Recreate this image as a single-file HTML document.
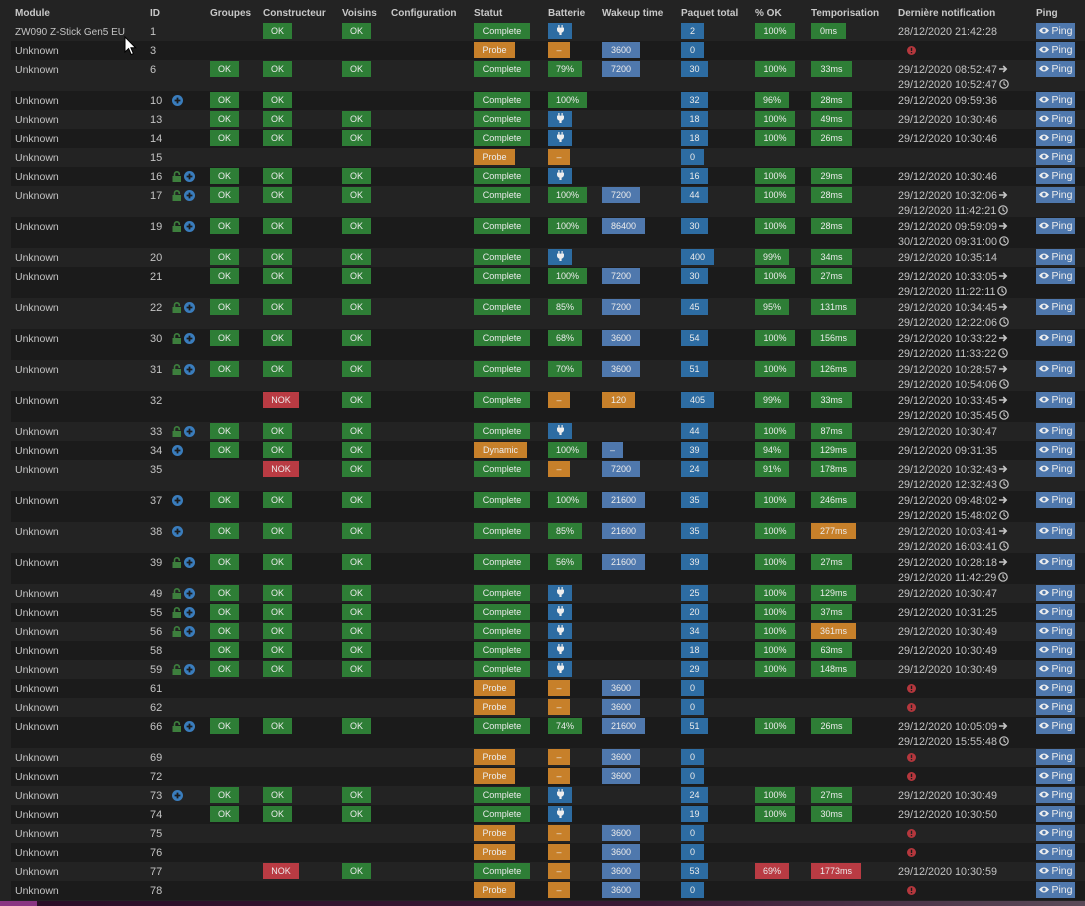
<!DOCTYPE html>
<html><head><meta charset="utf-8"><style>
*{box-sizing:border-box}
body{margin:0;width:1085px;height:906px;background:#232323;font-family:"Liberation Sans",sans-serif;overflow:hidden;position:relative}
.h{position:relative;height:22px}
.h span{position:absolute;top:5px;line-height:18px;font-size:10px;font-weight:bold;color:#c8c8c8;white-space:nowrap}
.r{position:relative;height:19px}
.d{height:31px}
.k::before{content:"";position:absolute;left:11px;right:0;top:0;bottom:0;background:#1b1b1b}
.t{position:absolute;top:1px;line-height:19px;font-size:11px;color:#c4c4c4;white-space:nowrap}
.b{position:absolute;top:1px;height:16px;line-height:16px;font-size:9px;font-weight:normal;text-align:center;color:#ececec;white-space:nowrap}
.n2{top:3px;line-height:14.5px}
.m{left:15px;font-size:10.5px}.id{left:150px}
.ic{position:absolute;top:4px;left:172px;line-height:0}
.g{left:210px;width:29px}.c{left:263px}.v{left:342px;width:29px}.s{left:474px}.ba{left:548px}.w{left:602px}.p{left:681px}.o{left:755px}.tp{left:811px}
.n{left:898px;font-size:10.8px}
.pg{left:1036px;width:39px;font-size:10.5px;background:#4f78ad}
.er{position:absolute;left:907px;top:5px;line-height:0}
.G{background:#2e7e36}.O{background:#c7802a}.B{background:#2d6ca2}.L{background:#4f78ad}.R{background:#b93b43}
.w21{width:21px}.w22{width:22px}.w23{width:23px}.w24{width:24px}.w27{width:27px}.w29{width:29px}.w33{width:33px}.w34{width:34px}.w35{width:35px}.w36{width:36px}.w38{width:38px}.w39{width:39px}.w40{width:40px}.w41{width:41px}.w43{width:43px}.w45{width:45px}.w50{width:50px}.w53{width:53px}.w56{width:56px}
svg{display:inline-block}
.bar{position:absolute;left:0;top:901px;width:1085px;height:5px;background:linear-gradient(to right,#8a3582 0,#8a3582 37px,#2b0e27 37px,#3a1a35 60%,#5b4a58 100%)}
.cur{position:absolute;left:124px;top:36px}
</style></head><body>
<div class="h"><span style="left:15px">Module</span><span style="left:150px">ID</span><span style="left:210px">Groupes</span><span style="left:263px">Constructeur</span><span style="left:342px">Voisins</span><span style="left:391px">Configuration</span><span style="left:474px">Statut</span><span style="left:548px">Batterie</span><span style="left:602px">Wakeup time</span><span style="left:681px">Paquet total</span><span style="left:755px">% OK</span><span style="left:811px">Temporisation</span><span style="left:898px">Dernière notification</span><span style="left:1036px">Ping</span></div>

<!-- 1 -->
<div class="r"><span class="t m" style="font-size:10px">ZW090 Z-Stick Gen5 EU</span><span class="t id">1</span><b class="b G c w29">OK</b><b class="b G v">OK</b><b class="b G s w56">Complete</b><b class="b B ba w24"><svg width="7" height="10" viewBox="0 0 7 10" style="vertical-align:-1px"><path d="M1.3 0h1.2v2.6H1.3zM4.5 0h1.2v2.6H4.5zM0 2.6h7v2.2c0 1.5-1 2.6-2.4 2.9V10H2.4V7.7C1 7.4 0 6.3 0 4.8z" fill="#eee"/></svg></b><b class="b B p w23">2</b><b class="b G o w40">100%</b><b class="b G tp w35">0ms</b><span class="t n">28/12/2020 21:42:28</span><b class="b pg"><svg width="10" height="7" viewBox="0 0 10 7"><path d="M0 3.5Q5-2.6 10 3.5Q5 9.6 0 3.5z" fill="#eee"/><circle cx="5" cy="3.5" r="1.7" fill="#4f78ad"/></svg> Ping</b></div>
<!-- 3 -->
<div class="r k"><span class="t m">Unknown</span><span class="t id">3</span><b class="b O s w41">Probe</b><b class="b O ba w22">–</b><b class="b L w w38">3600</b><b class="b B p w23">0</b><span class="er"><svg width="9" height="9"><circle cx="4.5" cy="4.5" r="4.5" fill="#b5373d"/><path d="M4.5 1.8v3.2M4.5 6v1.3" stroke="#1b1b1b" stroke-width="1.4"/></svg></span><b class="b pg"><svg width="10" height="7" viewBox="0 0 10 7"><path d="M0 3.5Q5-2.6 10 3.5Q5 9.6 0 3.5z" fill="#eee"/><circle cx="5" cy="3.5" r="1.7" fill="#4f78ad"/></svg> Ping</b></div>
<!-- 6 -->
<div class="r d"><span class="t m">Unknown</span><span class="t id">6</span><b class="b G g">OK</b><b class="b G c w29">OK</b><b class="b G v">OK</b><b class="b G s w56">Complete</b><b class="b G ba w34">79%</b><b class="b L w w38">7200</b><b class="b B p w27">30</b><b class="b G o w40">100%</b><b class="b G tp w41">33ms</b><span class="t n n2">29/12/2020 08:52:47<svg width="9" height="8" viewBox="0 0 9 8" style="margin-left:2px"><path d="M0 4h7.2M4.2 1l3 3-3 3" stroke="#c4c4c4" stroke-width="1.6" fill="none"/></svg><br>29/12/2020 10:52:47<svg width="10" height="10" viewBox="0 0 10 10" style="margin-left:2px;vertical-align:-1px"><circle cx="5" cy="5" r="4.2" stroke="#c4c4c4" stroke-width="1.2" fill="none"/><path d="M5 2.4V5.2l1.8 1.2" stroke="#c4c4c4" stroke-width="1.1" fill="none"/></svg></span><b class="b pg"><svg width="10" height="7" viewBox="0 0 10 7"><path d="M0 3.5Q5-2.6 10 3.5Q5 9.6 0 3.5z" fill="#eee"/><circle cx="5" cy="3.5" r="1.7" fill="#4f78ad"/></svg> Ping</b></div>
<!-- 10 -->
<div class="r k"><span class="t m">Unknown</span><span class="t id">10</span><span class="ic"><svg width="11" height="11"><circle cx="5.5" cy="5.5" r="5.5" fill="#3a7dbd"/><path d="M5.5 2.6v5.8M2.6 5.5h5.8" stroke="#1b1b1b" stroke-width="1.8"/></svg></span><b class="b G g">OK</b><b class="b G c w29">OK</b><b class="b G s w56">Complete</b><b class="b G ba w39">100%</b><b class="b B p w27">32</b><b class="b G o w34">96%</b><b class="b G tp w41">28ms</b><span class="t n">29/12/2020 09:59:36</span><b class="b pg"><svg width="10" height="7" viewBox="0 0 10 7"><path d="M0 3.5Q5-2.6 10 3.5Q5 9.6 0 3.5z" fill="#eee"/><circle cx="5" cy="3.5" r="1.7" fill="#4f78ad"/></svg> Ping</b></div>
<!-- 13 -->
<div class="r"><span class="t m">Unknown</span><span class="t id">13</span><b class="b G g">OK</b><b class="b G c w29">OK</b><b class="b G v">OK</b><b class="b G s w56">Complete</b><b class="b B ba w24"><svg width="7" height="10" viewBox="0 0 7 10" style="vertical-align:-1px"><path d="M1.3 0h1.2v2.6H1.3zM4.5 0h1.2v2.6H4.5zM0 2.6h7v2.2c0 1.5-1 2.6-2.4 2.9V10H2.4V7.7C1 7.4 0 6.3 0 4.8z" fill="#eee"/></svg></b><b class="b B p w27">18</b><b class="b G o w40">100%</b><b class="b G tp w41">49ms</b><span class="t n">29/12/2020 10:30:46</span><b class="b pg"><svg width="10" height="7" viewBox="0 0 10 7"><path d="M0 3.5Q5-2.6 10 3.5Q5 9.6 0 3.5z" fill="#eee"/><circle cx="5" cy="3.5" r="1.7" fill="#4f78ad"/></svg> Ping</b></div>
<!-- 14 -->
<div class="r k"><span class="t m">Unknown</span><span class="t id">14</span><b class="b G g">OK</b><b class="b G c w29">OK</b><b class="b G v">OK</b><b class="b G s w56">Complete</b><b class="b B ba w24"><svg width="7" height="10" viewBox="0 0 7 10" style="vertical-align:-1px"><path d="M1.3 0h1.2v2.6H1.3zM4.5 0h1.2v2.6H4.5zM0 2.6h7v2.2c0 1.5-1 2.6-2.4 2.9V10H2.4V7.7C1 7.4 0 6.3 0 4.8z" fill="#eee"/></svg></b><b class="b B p w27">18</b><b class="b G o w40">100%</b><b class="b G tp w41">26ms</b><span class="t n">29/12/2020 10:30:46</span><b class="b pg"><svg width="10" height="7" viewBox="0 0 10 7"><path d="M0 3.5Q5-2.6 10 3.5Q5 9.6 0 3.5z" fill="#eee"/><circle cx="5" cy="3.5" r="1.7" fill="#4f78ad"/></svg> Ping</b></div>
<!-- 15 -->
<div class="r"><span class="t m">Unknown</span><span class="t id">15</span><b class="b O s w41">Probe</b><b class="b O ba w22">–</b><b class="b B p w23">0</b><b class="b pg"><svg width="10" height="7" viewBox="0 0 10 7"><path d="M0 3.5Q5-2.6 10 3.5Q5 9.6 0 3.5z" fill="#eee"/><circle cx="5" cy="3.5" r="1.7" fill="#4f78ad"/></svg> Ping</b></div>
<!-- 16 -->
<div class="r k"><span class="t m">Unknown</span><span class="t id">16</span><span class="ic"><svg width="23" height="11" viewBox="0 0 23 11"><rect x="0.5" y="5" width="8.5" height="6" fill="#3d7f3d"/><path d="M2.5 5.5V3.2a2.4 2.4 0 0 1 4.8 0v0.8" stroke="#3d7f3d" stroke-width="1.6" fill="none"/><circle cx="17.5" cy="5.5" r="5.5" fill="#3a7dbd"/><path d="M17.5 2.6v5.8M14.6 5.5h5.8" stroke="#1b1b1b" stroke-width="1.8"/></svg></span><b class="b G g">OK</b><b class="b G c w29">OK</b><b class="b G v">OK</b><b class="b G s w56">Complete</b><b class="b B ba w24"><svg width="7" height="10" viewBox="0 0 7 10" style="vertical-align:-1px"><path d="M1.3 0h1.2v2.6H1.3zM4.5 0h1.2v2.6H4.5zM0 2.6h7v2.2c0 1.5-1 2.6-2.4 2.9V10H2.4V7.7C1 7.4 0 6.3 0 4.8z" fill="#eee"/></svg></b><b class="b B p w27">16</b><b class="b G o w40">100%</b><b class="b G tp w41">29ms</b><span class="t n">29/12/2020 10:30:46</span><b class="b pg"><svg width="10" height="7" viewBox="0 0 10 7"><path d="M0 3.5Q5-2.6 10 3.5Q5 9.6 0 3.5z" fill="#eee"/><circle cx="5" cy="3.5" r="1.7" fill="#4f78ad"/></svg> Ping</b></div>
<!-- 17 -->
<div class="r d"><span class="t m">Unknown</span><span class="t id">17</span><span class="ic"><svg width="23" height="11" viewBox="0 0 23 11"><rect x="0.5" y="5" width="8.5" height="6" fill="#3d7f3d"/><path d="M2.5 5.5V3.2a2.4 2.4 0 0 1 4.8 0v0.8" stroke="#3d7f3d" stroke-width="1.6" fill="none"/><circle cx="17.5" cy="5.5" r="5.5" fill="#3a7dbd"/><path d="M17.5 2.6v5.8M14.6 5.5h5.8" stroke="#1b1b1b" stroke-width="1.8"/></svg></span><b class="b G g">OK</b><b class="b G c w29">OK</b><b class="b G v">OK</b><b class="b G s w56">Complete</b><b class="b G ba w39">100%</b><b class="b L w w38">7200</b><b class="b B p w27">44</b><b class="b G o w40">100%</b><b class="b G tp w41">28ms</b><span class="t n n2">29/12/2020 10:32:06<svg width="9" height="8" viewBox="0 0 9 8" style="margin-left:2px"><path d="M0 4h7.2M4.2 1l3 3-3 3" stroke="#c4c4c4" stroke-width="1.6" fill="none"/></svg><br>29/12/2020 11:42:21<svg width="10" height="10" viewBox="0 0 10 10" style="margin-left:2px;vertical-align:-1px"><circle cx="5" cy="5" r="4.2" stroke="#c4c4c4" stroke-width="1.2" fill="none"/><path d="M5 2.4V5.2l1.8 1.2" stroke="#c4c4c4" stroke-width="1.1" fill="none"/></svg></span><b class="b pg"><svg width="10" height="7" viewBox="0 0 10 7"><path d="M0 3.5Q5-2.6 10 3.5Q5 9.6 0 3.5z" fill="#eee"/><circle cx="5" cy="3.5" r="1.7" fill="#4f78ad"/></svg> Ping</b></div>
<!-- 19 -->
<div class="r d k"><span class="t m">Unknown</span><span class="t id">19</span><span class="ic"><svg width="23" height="11" viewBox="0 0 23 11"><rect x="0.5" y="5" width="8.5" height="6" fill="#3d7f3d"/><path d="M2.5 5.5V3.2a2.4 2.4 0 0 1 4.8 0v0.8" stroke="#3d7f3d" stroke-width="1.6" fill="none"/><circle cx="17.5" cy="5.5" r="5.5" fill="#3a7dbd"/><path d="M17.5 2.6v5.8M14.6 5.5h5.8" stroke="#1b1b1b" stroke-width="1.8"/></svg></span><b class="b G g">OK</b><b class="b G c w29">OK</b><b class="b G v">OK</b><b class="b G s w56">Complete</b><b class="b G ba w39">100%</b><b class="b L w w43">86400</b><b class="b B p w27">30</b><b class="b G o w40">100%</b><b class="b G tp w41">28ms</b><span class="t n n2">29/12/2020 09:59:09<svg width="9" height="8" viewBox="0 0 9 8" style="margin-left:2px"><path d="M0 4h7.2M4.2 1l3 3-3 3" stroke="#c4c4c4" stroke-width="1.6" fill="none"/></svg><br>30/12/2020 09:31:00<svg width="10" height="10" viewBox="0 0 10 10" style="margin-left:2px;vertical-align:-1px"><circle cx="5" cy="5" r="4.2" stroke="#c4c4c4" stroke-width="1.2" fill="none"/><path d="M5 2.4V5.2l1.8 1.2" stroke="#c4c4c4" stroke-width="1.1" fill="none"/></svg></span><b class="b pg"><svg width="10" height="7" viewBox="0 0 10 7"><path d="M0 3.5Q5-2.6 10 3.5Q5 9.6 0 3.5z" fill="#eee"/><circle cx="5" cy="3.5" r="1.7" fill="#4f78ad"/></svg> Ping</b></div>
<!-- 20 -->
<div class="r"><span class="t m">Unknown</span><span class="t id">20</span><b class="b G g">OK</b><b class="b G c w29">OK</b><b class="b G v">OK</b><b class="b G s w56">Complete</b><b class="b B ba w24"><svg width="7" height="10" viewBox="0 0 7 10" style="vertical-align:-1px"><path d="M1.3 0h1.2v2.6H1.3zM4.5 0h1.2v2.6H4.5zM0 2.6h7v2.2c0 1.5-1 2.6-2.4 2.9V10H2.4V7.7C1 7.4 0 6.3 0 4.8z" fill="#eee"/></svg></b><b class="b B p w33">400</b><b class="b G o w34">99%</b><b class="b G tp w41">34ms</b><span class="t n">29/12/2020 10:35:14</span><b class="b pg"><svg width="10" height="7" viewBox="0 0 10 7"><path d="M0 3.5Q5-2.6 10 3.5Q5 9.6 0 3.5z" fill="#eee"/><circle cx="5" cy="3.5" r="1.7" fill="#4f78ad"/></svg> Ping</b></div>
<!-- 21 -->
<div class="r d k"><span class="t m">Unknown</span><span class="t id">21</span><b class="b G g">OK</b><b class="b G c w29">OK</b><b class="b G v">OK</b><b class="b G s w56">Complete</b><b class="b G ba w39">100%</b><b class="b L w w38">7200</b><b class="b B p w27">30</b><b class="b G o w40">100%</b><b class="b G tp w41">27ms</b><span class="t n n2">29/12/2020 10:33:05<svg width="9" height="8" viewBox="0 0 9 8" style="margin-left:2px"><path d="M0 4h7.2M4.2 1l3 3-3 3" stroke="#c4c4c4" stroke-width="1.6" fill="none"/></svg><br>29/12/2020 11:22:11<svg width="10" height="10" viewBox="0 0 10 10" style="margin-left:2px;vertical-align:-1px"><circle cx="5" cy="5" r="4.2" stroke="#c4c4c4" stroke-width="1.2" fill="none"/><path d="M5 2.4V5.2l1.8 1.2" stroke="#c4c4c4" stroke-width="1.1" fill="none"/></svg></span><b class="b pg"><svg width="10" height="7" viewBox="0 0 10 7"><path d="M0 3.5Q5-2.6 10 3.5Q5 9.6 0 3.5z" fill="#eee"/><circle cx="5" cy="3.5" r="1.7" fill="#4f78ad"/></svg> Ping</b></div>
<!-- 22 -->
<div class="r d"><span class="t m">Unknown</span><span class="t id">22</span><span class="ic"><svg width="23" height="11" viewBox="0 0 23 11"><rect x="0.5" y="5" width="8.5" height="6" fill="#3d7f3d"/><path d="M2.5 5.5V3.2a2.4 2.4 0 0 1 4.8 0v0.8" stroke="#3d7f3d" stroke-width="1.6" fill="none"/><circle cx="17.5" cy="5.5" r="5.5" fill="#3a7dbd"/><path d="M17.5 2.6v5.8M14.6 5.5h5.8" stroke="#1b1b1b" stroke-width="1.8"/></svg></span><b class="b G g">OK</b><b class="b G c w29">OK</b><b class="b G v">OK</b><b class="b G s w56">Complete</b><b class="b G ba w34">85%</b><b class="b L w w38">7200</b><b class="b B p w27">45</b><b class="b G o w34">95%</b><b class="b G tp w45">131ms</b><span class="t n n2">29/12/2020 10:34:45<svg width="9" height="8" viewBox="0 0 9 8" style="margin-left:2px"><path d="M0 4h7.2M4.2 1l3 3-3 3" stroke="#c4c4c4" stroke-width="1.6" fill="none"/></svg><br>29/12/2020 12:22:06<svg width="10" height="10" viewBox="0 0 10 10" style="margin-left:2px;vertical-align:-1px"><circle cx="5" cy="5" r="4.2" stroke="#c4c4c4" stroke-width="1.2" fill="none"/><path d="M5 2.4V5.2l1.8 1.2" stroke="#c4c4c4" stroke-width="1.1" fill="none"/></svg></span><b class="b pg"><svg width="10" height="7" viewBox="0 0 10 7"><path d="M0 3.5Q5-2.6 10 3.5Q5 9.6 0 3.5z" fill="#eee"/><circle cx="5" cy="3.5" r="1.7" fill="#4f78ad"/></svg> Ping</b></div>
<!-- 30 -->
<div class="r d k"><span class="t m">Unknown</span><span class="t id">30</span><span class="ic"><svg width="23" height="11" viewBox="0 0 23 11"><rect x="0.5" y="5" width="8.5" height="6" fill="#3d7f3d"/><path d="M2.5 5.5V3.2a2.4 2.4 0 0 1 4.8 0v0.8" stroke="#3d7f3d" stroke-width="1.6" fill="none"/><circle cx="17.5" cy="5.5" r="5.5" fill="#3a7dbd"/><path d="M17.5 2.6v5.8M14.6 5.5h5.8" stroke="#1b1b1b" stroke-width="1.8"/></svg></span><b class="b G g">OK</b><b class="b G c w29">OK</b><b class="b G v">OK</b><b class="b G s w56">Complete</b><b class="b G ba w34">68%</b><b class="b L w w38">3600</b><b class="b B p w27">54</b><b class="b G o w40">100%</b><b class="b G tp w45">156ms</b><span class="t n n2">29/12/2020 10:33:22<svg width="9" height="8" viewBox="0 0 9 8" style="margin-left:2px"><path d="M0 4h7.2M4.2 1l3 3-3 3" stroke="#c4c4c4" stroke-width="1.6" fill="none"/></svg><br>29/12/2020 11:33:22<svg width="10" height="10" viewBox="0 0 10 10" style="margin-left:2px;vertical-align:-1px"><circle cx="5" cy="5" r="4.2" stroke="#c4c4c4" stroke-width="1.2" fill="none"/><path d="M5 2.4V5.2l1.8 1.2" stroke="#c4c4c4" stroke-width="1.1" fill="none"/></svg></span><b class="b pg"><svg width="10" height="7" viewBox="0 0 10 7"><path d="M0 3.5Q5-2.6 10 3.5Q5 9.6 0 3.5z" fill="#eee"/><circle cx="5" cy="3.5" r="1.7" fill="#4f78ad"/></svg> Ping</b></div>
<!-- 31 -->
<div class="r d"><span class="t m">Unknown</span><span class="t id">31</span><span class="ic"><svg width="23" height="11" viewBox="0 0 23 11"><rect x="0.5" y="5" width="8.5" height="6" fill="#3d7f3d"/><path d="M2.5 5.5V3.2a2.4 2.4 0 0 1 4.8 0v0.8" stroke="#3d7f3d" stroke-width="1.6" fill="none"/><circle cx="17.5" cy="5.5" r="5.5" fill="#3a7dbd"/><path d="M17.5 2.6v5.8M14.6 5.5h5.8" stroke="#1b1b1b" stroke-width="1.8"/></svg></span><b class="b G g">OK</b><b class="b G c w29">OK</b><b class="b G v">OK</b><b class="b G s w56">Complete</b><b class="b G ba w34">70%</b><b class="b L w w38">3600</b><b class="b B p w27">51</b><b class="b G o w40">100%</b><b class="b G tp w45">126ms</b><span class="t n n2">29/12/2020 10:28:57<svg width="9" height="8" viewBox="0 0 9 8" style="margin-left:2px"><path d="M0 4h7.2M4.2 1l3 3-3 3" stroke="#c4c4c4" stroke-width="1.6" fill="none"/></svg><br>29/12/2020 10:54:06<svg width="10" height="10" viewBox="0 0 10 10" style="margin-left:2px;vertical-align:-1px"><circle cx="5" cy="5" r="4.2" stroke="#c4c4c4" stroke-width="1.2" fill="none"/><path d="M5 2.4V5.2l1.8 1.2" stroke="#c4c4c4" stroke-width="1.1" fill="none"/></svg></span><b class="b pg"><svg width="10" height="7" viewBox="0 0 10 7"><path d="M0 3.5Q5-2.6 10 3.5Q5 9.6 0 3.5z" fill="#eee"/><circle cx="5" cy="3.5" r="1.7" fill="#4f78ad"/></svg> Ping</b></div>
<!-- 32 -->
<div class="r d k"><span class="t m">Unknown</span><span class="t id">32</span><b class="b R c w36">NOK</b><b class="b G v">OK</b><b class="b G s w56">Complete</b><b class="b O ba w22">–</b><b class="b O w w33">120</b><b class="b B p w33">405</b><b class="b G o w34">99%</b><b class="b G tp w41">33ms</b><span class="t n n2">29/12/2020 10:33:45<svg width="9" height="8" viewBox="0 0 9 8" style="margin-left:2px"><path d="M0 4h7.2M4.2 1l3 3-3 3" stroke="#c4c4c4" stroke-width="1.6" fill="none"/></svg><br>29/12/2020 10:35:45<svg width="10" height="10" viewBox="0 0 10 10" style="margin-left:2px;vertical-align:-1px"><circle cx="5" cy="5" r="4.2" stroke="#c4c4c4" stroke-width="1.2" fill="none"/><path d="M5 2.4V5.2l1.8 1.2" stroke="#c4c4c4" stroke-width="1.1" fill="none"/></svg></span><b class="b pg"><svg width="10" height="7" viewBox="0 0 10 7"><path d="M0 3.5Q5-2.6 10 3.5Q5 9.6 0 3.5z" fill="#eee"/><circle cx="5" cy="3.5" r="1.7" fill="#4f78ad"/></svg> Ping</b></div>
<!-- 33 -->
<div class="r"><span class="t m">Unknown</span><span class="t id">33</span><span class="ic"><svg width="23" height="11" viewBox="0 0 23 11"><rect x="0.5" y="5" width="8.5" height="6" fill="#3d7f3d"/><path d="M2.5 5.5V3.2a2.4 2.4 0 0 1 4.8 0v0.8" stroke="#3d7f3d" stroke-width="1.6" fill="none"/><circle cx="17.5" cy="5.5" r="5.5" fill="#3a7dbd"/><path d="M17.5 2.6v5.8M14.6 5.5h5.8" stroke="#1b1b1b" stroke-width="1.8"/></svg></span><b class="b G g">OK</b><b class="b G c w29">OK</b><b class="b G v">OK</b><b class="b G s w56">Complete</b><b class="b B ba w24"><svg width="7" height="10" viewBox="0 0 7 10" style="vertical-align:-1px"><path d="M1.3 0h1.2v2.6H1.3zM4.5 0h1.2v2.6H4.5zM0 2.6h7v2.2c0 1.5-1 2.6-2.4 2.9V10H2.4V7.7C1 7.4 0 6.3 0 4.8z" fill="#eee"/></svg></b><b class="b B p w27">44</b><b class="b G o w40">100%</b><b class="b G tp w41">87ms</b><span class="t n">29/12/2020 10:30:47</span><b class="b pg"><svg width="10" height="7" viewBox="0 0 10 7"><path d="M0 3.5Q5-2.6 10 3.5Q5 9.6 0 3.5z" fill="#eee"/><circle cx="5" cy="3.5" r="1.7" fill="#4f78ad"/></svg> Ping</b></div>
<!-- 34 -->
<div class="r k"><span class="t m">Unknown</span><span class="t id">34</span><span class="ic"><svg width="11" height="11"><circle cx="5.5" cy="5.5" r="5.5" fill="#3a7dbd"/><path d="M5.5 2.6v5.8M2.6 5.5h5.8" stroke="#1b1b1b" stroke-width="1.8"/></svg></span><b class="b G g">OK</b><b class="b G c w29">OK</b><b class="b G v">OK</b><b class="b O s w53">Dynamic</b><b class="b G ba w39">100%</b><b class="b L w w21">–</b><b class="b B p w27">39</b><b class="b G o w34">94%</b><b class="b G tp w45">129ms</b><span class="t n">29/12/2020 09:31:35</span><b class="b pg"><svg width="10" height="7" viewBox="0 0 10 7"><path d="M0 3.5Q5-2.6 10 3.5Q5 9.6 0 3.5z" fill="#eee"/><circle cx="5" cy="3.5" r="1.7" fill="#4f78ad"/></svg> Ping</b></div>
<!-- 35 -->
<div class="r d"><span class="t m">Unknown</span><span class="t id">35</span><b class="b R c w36">NOK</b><b class="b G v">OK</b><b class="b G s w56">Complete</b><b class="b O ba w22">–</b><b class="b L w w38">7200</b><b class="b B p w27">24</b><b class="b G o w34">91%</b><b class="b G tp w45">178ms</b><span class="t n n2">29/12/2020 10:32:43<svg width="9" height="8" viewBox="0 0 9 8" style="margin-left:2px"><path d="M0 4h7.2M4.2 1l3 3-3 3" stroke="#c4c4c4" stroke-width="1.6" fill="none"/></svg><br>29/12/2020 12:32:43<svg width="10" height="10" viewBox="0 0 10 10" style="margin-left:2px;vertical-align:-1px"><circle cx="5" cy="5" r="4.2" stroke="#c4c4c4" stroke-width="1.2" fill="none"/><path d="M5 2.4V5.2l1.8 1.2" stroke="#c4c4c4" stroke-width="1.1" fill="none"/></svg></span><b class="b pg"><svg width="10" height="7" viewBox="0 0 10 7"><path d="M0 3.5Q5-2.6 10 3.5Q5 9.6 0 3.5z" fill="#eee"/><circle cx="5" cy="3.5" r="1.7" fill="#4f78ad"/></svg> Ping</b></div>
<!-- 37 -->
<div class="r d k"><span class="t m">Unknown</span><span class="t id">37</span><span class="ic"><svg width="11" height="11"><circle cx="5.5" cy="5.5" r="5.5" fill="#3a7dbd"/><path d="M5.5 2.6v5.8M2.6 5.5h5.8" stroke="#1b1b1b" stroke-width="1.8"/></svg></span><b class="b G g">OK</b><b class="b G c w29">OK</b><b class="b G v">OK</b><b class="b G s w56">Complete</b><b class="b G ba w39">100%</b><b class="b L w w43">21600</b><b class="b B p w27">35</b><b class="b G o w40">100%</b><b class="b G tp w45">246ms</b><span class="t n n2">29/12/2020 09:48:02<svg width="9" height="8" viewBox="0 0 9 8" style="margin-left:2px"><path d="M0 4h7.2M4.2 1l3 3-3 3" stroke="#c4c4c4" stroke-width="1.6" fill="none"/></svg><br>29/12/2020 15:48:02<svg width="10" height="10" viewBox="0 0 10 10" style="margin-left:2px;vertical-align:-1px"><circle cx="5" cy="5" r="4.2" stroke="#c4c4c4" stroke-width="1.2" fill="none"/><path d="M5 2.4V5.2l1.8 1.2" stroke="#c4c4c4" stroke-width="1.1" fill="none"/></svg></span><b class="b pg"><svg width="10" height="7" viewBox="0 0 10 7"><path d="M0 3.5Q5-2.6 10 3.5Q5 9.6 0 3.5z" fill="#eee"/><circle cx="5" cy="3.5" r="1.7" fill="#4f78ad"/></svg> Ping</b></div>
<!-- 38 -->
<div class="r d"><span class="t m">Unknown</span><span class="t id">38</span><span class="ic"><svg width="11" height="11"><circle cx="5.5" cy="5.5" r="5.5" fill="#3a7dbd"/><path d="M5.5 2.6v5.8M2.6 5.5h5.8" stroke="#1b1b1b" stroke-width="1.8"/></svg></span><b class="b G g">OK</b><b class="b G c w29">OK</b><b class="b G v">OK</b><b class="b G s w56">Complete</b><b class="b G ba w34">85%</b><b class="b L w w43">21600</b><b class="b B p w27">35</b><b class="b G o w40">100%</b><b class="b O tp w45">277ms</b><span class="t n n2">29/12/2020 10:03:41<svg width="9" height="8" viewBox="0 0 9 8" style="margin-left:2px"><path d="M0 4h7.2M4.2 1l3 3-3 3" stroke="#c4c4c4" stroke-width="1.6" fill="none"/></svg><br>29/12/2020 16:03:41<svg width="10" height="10" viewBox="0 0 10 10" style="margin-left:2px;vertical-align:-1px"><circle cx="5" cy="5" r="4.2" stroke="#c4c4c4" stroke-width="1.2" fill="none"/><path d="M5 2.4V5.2l1.8 1.2" stroke="#c4c4c4" stroke-width="1.1" fill="none"/></svg></span><b class="b pg"><svg width="10" height="7" viewBox="0 0 10 7"><path d="M0 3.5Q5-2.6 10 3.5Q5 9.6 0 3.5z" fill="#eee"/><circle cx="5" cy="3.5" r="1.7" fill="#4f78ad"/></svg> Ping</b></div>
<!-- 39 -->
<div class="r d k"><span class="t m">Unknown</span><span class="t id">39</span><span class="ic"><svg width="23" height="11" viewBox="0 0 23 11"><rect x="0.5" y="5" width="8.5" height="6" fill="#3d7f3d"/><path d="M2.5 5.5V3.2a2.4 2.4 0 0 1 4.8 0v0.8" stroke="#3d7f3d" stroke-width="1.6" fill="none"/><circle cx="17.5" cy="5.5" r="5.5" fill="#3a7dbd"/><path d="M17.5 2.6v5.8M14.6 5.5h5.8" stroke="#1b1b1b" stroke-width="1.8"/></svg></span><b class="b G g">OK</b><b class="b G c w29">OK</b><b class="b G v">OK</b><b class="b G s w56">Complete</b><b class="b G ba w34">56%</b><b class="b L w w43">21600</b><b class="b B p w27">39</b><b class="b G o w40">100%</b><b class="b G tp w41">27ms</b><span class="t n n2">29/12/2020 10:28:18<svg width="9" height="8" viewBox="0 0 9 8" style="margin-left:2px"><path d="M0 4h7.2M4.2 1l3 3-3 3" stroke="#c4c4c4" stroke-width="1.6" fill="none"/></svg><br>29/12/2020 11:42:29<svg width="10" height="10" viewBox="0 0 10 10" style="margin-left:2px;vertical-align:-1px"><circle cx="5" cy="5" r="4.2" stroke="#c4c4c4" stroke-width="1.2" fill="none"/><path d="M5 2.4V5.2l1.8 1.2" stroke="#c4c4c4" stroke-width="1.1" fill="none"/></svg></span><b class="b pg"><svg width="10" height="7" viewBox="0 0 10 7"><path d="M0 3.5Q5-2.6 10 3.5Q5 9.6 0 3.5z" fill="#eee"/><circle cx="5" cy="3.5" r="1.7" fill="#4f78ad"/></svg> Ping</b></div>
<!-- 49 -->
<div class="r"><span class="t m">Unknown</span><span class="t id">49</span><span class="ic"><svg width="23" height="11" viewBox="0 0 23 11"><rect x="0.5" y="5" width="8.5" height="6" fill="#3d7f3d"/><path d="M2.5 5.5V3.2a2.4 2.4 0 0 1 4.8 0v0.8" stroke="#3d7f3d" stroke-width="1.6" fill="none"/><circle cx="17.5" cy="5.5" r="5.5" fill="#3a7dbd"/><path d="M17.5 2.6v5.8M14.6 5.5h5.8" stroke="#1b1b1b" stroke-width="1.8"/></svg></span><b class="b G g">OK</b><b class="b G c w29">OK</b><b class="b G v">OK</b><b class="b G s w56">Complete</b><b class="b B ba w24"><svg width="7" height="10" viewBox="0 0 7 10" style="vertical-align:-1px"><path d="M1.3 0h1.2v2.6H1.3zM4.5 0h1.2v2.6H4.5zM0 2.6h7v2.2c0 1.5-1 2.6-2.4 2.9V10H2.4V7.7C1 7.4 0 6.3 0 4.8z" fill="#eee"/></svg></b><b class="b B p w27">25</b><b class="b G o w40">100%</b><b class="b G tp w45">129ms</b><span class="t n">29/12/2020 10:30:47</span><b class="b pg"><svg width="10" height="7" viewBox="0 0 10 7"><path d="M0 3.5Q5-2.6 10 3.5Q5 9.6 0 3.5z" fill="#eee"/><circle cx="5" cy="3.5" r="1.7" fill="#4f78ad"/></svg> Ping</b></div>
<!-- 55 -->
<div class="r k"><span class="t m">Unknown</span><span class="t id">55</span><span class="ic"><svg width="23" height="11" viewBox="0 0 23 11"><rect x="0.5" y="5" width="8.5" height="6" fill="#3d7f3d"/><path d="M2.5 5.5V3.2a2.4 2.4 0 0 1 4.8 0v0.8" stroke="#3d7f3d" stroke-width="1.6" fill="none"/><circle cx="17.5" cy="5.5" r="5.5" fill="#3a7dbd"/><path d="M17.5 2.6v5.8M14.6 5.5h5.8" stroke="#1b1b1b" stroke-width="1.8"/></svg></span><b class="b G g">OK</b><b class="b G c w29">OK</b><b class="b G v">OK</b><b class="b G s w56">Complete</b><b class="b B ba w24"><svg width="7" height="10" viewBox="0 0 7 10" style="vertical-align:-1px"><path d="M1.3 0h1.2v2.6H1.3zM4.5 0h1.2v2.6H4.5zM0 2.6h7v2.2c0 1.5-1 2.6-2.4 2.9V10H2.4V7.7C1 7.4 0 6.3 0 4.8z" fill="#eee"/></svg></b><b class="b B p w27">20</b><b class="b G o w40">100%</b><b class="b G tp w41">37ms</b><span class="t n">29/12/2020 10:31:25</span><b class="b pg"><svg width="10" height="7" viewBox="0 0 10 7"><path d="M0 3.5Q5-2.6 10 3.5Q5 9.6 0 3.5z" fill="#eee"/><circle cx="5" cy="3.5" r="1.7" fill="#4f78ad"/></svg> Ping</b></div>
<!-- 56 -->
<div class="r"><span class="t m">Unknown</span><span class="t id">56</span><span class="ic"><svg width="23" height="11" viewBox="0 0 23 11"><rect x="0.5" y="5" width="8.5" height="6" fill="#3d7f3d"/><path d="M2.5 5.5V3.2a2.4 2.4 0 0 1 4.8 0v0.8" stroke="#3d7f3d" stroke-width="1.6" fill="none"/><circle cx="17.5" cy="5.5" r="5.5" fill="#3a7dbd"/><path d="M17.5 2.6v5.8M14.6 5.5h5.8" stroke="#1b1b1b" stroke-width="1.8"/></svg></span><b class="b G g">OK</b><b class="b G c w29">OK</b><b class="b G v">OK</b><b class="b G s w56">Complete</b><b class="b B ba w24"><svg width="7" height="10" viewBox="0 0 7 10" style="vertical-align:-1px"><path d="M1.3 0h1.2v2.6H1.3zM4.5 0h1.2v2.6H4.5zM0 2.6h7v2.2c0 1.5-1 2.6-2.4 2.9V10H2.4V7.7C1 7.4 0 6.3 0 4.8z" fill="#eee"/></svg></b><b class="b B p w27">34</b><b class="b G o w40">100%</b><b class="b O tp w45">361ms</b><span class="t n">29/12/2020 10:30:49</span><b class="b pg"><svg width="10" height="7" viewBox="0 0 10 7"><path d="M0 3.5Q5-2.6 10 3.5Q5 9.6 0 3.5z" fill="#eee"/><circle cx="5" cy="3.5" r="1.7" fill="#4f78ad"/></svg> Ping</b></div>
<!-- 58 -->
<div class="r k"><span class="t m">Unknown</span><span class="t id">58</span><b class="b G g">OK</b><b class="b G c w29">OK</b><b class="b G v">OK</b><b class="b G s w56">Complete</b><b class="b B ba w24"><svg width="7" height="10" viewBox="0 0 7 10" style="vertical-align:-1px"><path d="M1.3 0h1.2v2.6H1.3zM4.5 0h1.2v2.6H4.5zM0 2.6h7v2.2c0 1.5-1 2.6-2.4 2.9V10H2.4V7.7C1 7.4 0 6.3 0 4.8z" fill="#eee"/></svg></b><b class="b B p w27">18</b><b class="b G o w40">100%</b><b class="b G tp w41">63ms</b><span class="t n">29/12/2020 10:30:49</span><b class="b pg"><svg width="10" height="7" viewBox="0 0 10 7"><path d="M0 3.5Q5-2.6 10 3.5Q5 9.6 0 3.5z" fill="#eee"/><circle cx="5" cy="3.5" r="1.7" fill="#4f78ad"/></svg> Ping</b></div>
<!-- 59 -->
<div class="r"><span class="t m">Unknown</span><span class="t id">59</span><span class="ic"><svg width="23" height="11" viewBox="0 0 23 11"><rect x="0.5" y="5" width="8.5" height="6" fill="#3d7f3d"/><path d="M2.5 5.5V3.2a2.4 2.4 0 0 1 4.8 0v0.8" stroke="#3d7f3d" stroke-width="1.6" fill="none"/><circle cx="17.5" cy="5.5" r="5.5" fill="#3a7dbd"/><path d="M17.5 2.6v5.8M14.6 5.5h5.8" stroke="#1b1b1b" stroke-width="1.8"/></svg></span><b class="b G g">OK</b><b class="b G c w29">OK</b><b class="b G v">OK</b><b class="b G s w56">Complete</b><b class="b B ba w24"><svg width="7" height="10" viewBox="0 0 7 10" style="vertical-align:-1px"><path d="M1.3 0h1.2v2.6H1.3zM4.5 0h1.2v2.6H4.5zM0 2.6h7v2.2c0 1.5-1 2.6-2.4 2.9V10H2.4V7.7C1 7.4 0 6.3 0 4.8z" fill="#eee"/></svg></b><b class="b B p w27">29</b><b class="b G o w40">100%</b><b class="b G tp w45">148ms</b><span class="t n">29/12/2020 10:30:49</span><b class="b pg"><svg width="10" height="7" viewBox="0 0 10 7"><path d="M0 3.5Q5-2.6 10 3.5Q5 9.6 0 3.5z" fill="#eee"/><circle cx="5" cy="3.5" r="1.7" fill="#4f78ad"/></svg> Ping</b></div>
<!-- 61 -->
<div class="r k"><span class="t m">Unknown</span><span class="t id">61</span><b class="b O s w41">Probe</b><b class="b O ba w22">–</b><b class="b L w w38">3600</b><b class="b B p w23">0</b><span class="er"><svg width="9" height="9"><circle cx="4.5" cy="4.5" r="4.5" fill="#b5373d"/><path d="M4.5 1.8v3.2M4.5 6v1.3" stroke="#1b1b1b" stroke-width="1.4"/></svg></span><b class="b pg"><svg width="10" height="7" viewBox="0 0 10 7"><path d="M0 3.5Q5-2.6 10 3.5Q5 9.6 0 3.5z" fill="#eee"/><circle cx="5" cy="3.5" r="1.7" fill="#4f78ad"/></svg> Ping</b></div>
<!-- 62 -->
<div class="r"><span class="t m">Unknown</span><span class="t id">62</span><b class="b O s w41">Probe</b><b class="b O ba w22">–</b><b class="b L w w38">3600</b><b class="b B p w23">0</b><span class="er"><svg width="9" height="9"><circle cx="4.5" cy="4.5" r="4.5" fill="#b5373d"/><path d="M4.5 1.8v3.2M4.5 6v1.3" stroke="#232323" stroke-width="1.4"/></svg></span><b class="b pg"><svg width="10" height="7" viewBox="0 0 10 7"><path d="M0 3.5Q5-2.6 10 3.5Q5 9.6 0 3.5z" fill="#eee"/><circle cx="5" cy="3.5" r="1.7" fill="#4f78ad"/></svg> Ping</b></div>
<!-- 66 -->
<div class="r d k"><span class="t m">Unknown</span><span class="t id">66</span><span class="ic"><svg width="23" height="11" viewBox="0 0 23 11"><rect x="0.5" y="5" width="8.5" height="6" fill="#3d7f3d"/><path d="M2.5 5.5V3.2a2.4 2.4 0 0 1 4.8 0v0.8" stroke="#3d7f3d" stroke-width="1.6" fill="none"/><circle cx="17.5" cy="5.5" r="5.5" fill="#3a7dbd"/><path d="M17.5 2.6v5.8M14.6 5.5h5.8" stroke="#1b1b1b" stroke-width="1.8"/></svg></span><b class="b G g">OK</b><b class="b G c w29">OK</b><b class="b G v">OK</b><b class="b G s w56">Complete</b><b class="b G ba w34">74%</b><b class="b L w w43">21600</b><b class="b B p w27">51</b><b class="b G o w40">100%</b><b class="b G tp w41">26ms</b><span class="t n n2">29/12/2020 10:05:09<svg width="9" height="8" viewBox="0 0 9 8" style="margin-left:2px"><path d="M0 4h7.2M4.2 1l3 3-3 3" stroke="#c4c4c4" stroke-width="1.6" fill="none"/></svg><br>29/12/2020 15:55:48<svg width="10" height="10" viewBox="0 0 10 10" style="margin-left:2px;vertical-align:-1px"><circle cx="5" cy="5" r="4.2" stroke="#c4c4c4" stroke-width="1.2" fill="none"/><path d="M5 2.4V5.2l1.8 1.2" stroke="#c4c4c4" stroke-width="1.1" fill="none"/></svg></span><b class="b pg"><svg width="10" height="7" viewBox="0 0 10 7"><path d="M0 3.5Q5-2.6 10 3.5Q5 9.6 0 3.5z" fill="#eee"/><circle cx="5" cy="3.5" r="1.7" fill="#4f78ad"/></svg> Ping</b></div>
<!-- 69 -->
<div class="r"><span class="t m">Unknown</span><span class="t id">69</span><b class="b O s w41">Probe</b><b class="b O ba w22">–</b><b class="b L w w38">3600</b><b class="b B p w23">0</b><span class="er"><svg width="9" height="9"><circle cx="4.5" cy="4.5" r="4.5" fill="#b5373d"/><path d="M4.5 1.8v3.2M4.5 6v1.3" stroke="#232323" stroke-width="1.4"/></svg></span><b class="b pg"><svg width="10" height="7" viewBox="0 0 10 7"><path d="M0 3.5Q5-2.6 10 3.5Q5 9.6 0 3.5z" fill="#eee"/><circle cx="5" cy="3.5" r="1.7" fill="#4f78ad"/></svg> Ping</b></div>
<!-- 72 -->
<div class="r k"><span class="t m">Unknown</span><span class="t id">72</span><b class="b O s w41">Probe</b><b class="b O ba w22">–</b><b class="b L w w38">3600</b><b class="b B p w23">0</b><span class="er"><svg width="9" height="9"><circle cx="4.5" cy="4.5" r="4.5" fill="#b5373d"/><path d="M4.5 1.8v3.2M4.5 6v1.3" stroke="#1b1b1b" stroke-width="1.4"/></svg></span><b class="b pg"><svg width="10" height="7" viewBox="0 0 10 7"><path d="M0 3.5Q5-2.6 10 3.5Q5 9.6 0 3.5z" fill="#eee"/><circle cx="5" cy="3.5" r="1.7" fill="#4f78ad"/></svg> Ping</b></div>
<!-- 73 -->
<div class="r"><span class="t m">Unknown</span><span class="t id">73</span><span class="ic"><svg width="11" height="11"><circle cx="5.5" cy="5.5" r="5.5" fill="#3a7dbd"/><path d="M5.5 2.6v5.8M2.6 5.5h5.8" stroke="#1b1b1b" stroke-width="1.8"/></svg></span><b class="b G g">OK</b><b class="b G c w29">OK</b><b class="b G v">OK</b><b class="b G s w56">Complete</b><b class="b B ba w24"><svg width="7" height="10" viewBox="0 0 7 10" style="vertical-align:-1px"><path d="M1.3 0h1.2v2.6H1.3zM4.5 0h1.2v2.6H4.5zM0 2.6h7v2.2c0 1.5-1 2.6-2.4 2.9V10H2.4V7.7C1 7.4 0 6.3 0 4.8z" fill="#eee"/></svg></b><b class="b B p w27">24</b><b class="b G o w40">100%</b><b class="b G tp w41">27ms</b><span class="t n">29/12/2020 10:30:49</span><b class="b pg"><svg width="10" height="7" viewBox="0 0 10 7"><path d="M0 3.5Q5-2.6 10 3.5Q5 9.6 0 3.5z" fill="#eee"/><circle cx="5" cy="3.5" r="1.7" fill="#4f78ad"/></svg> Ping</b></div>
<!-- 74 -->
<div class="r k"><span class="t m">Unknown</span><span class="t id">74</span><b class="b G g">OK</b><b class="b G c w29">OK</b><b class="b G v">OK</b><b class="b G s w56">Complete</b><b class="b B ba w24"><svg width="7" height="10" viewBox="0 0 7 10" style="vertical-align:-1px"><path d="M1.3 0h1.2v2.6H1.3zM4.5 0h1.2v2.6H4.5zM0 2.6h7v2.2c0 1.5-1 2.6-2.4 2.9V10H2.4V7.7C1 7.4 0 6.3 0 4.8z" fill="#eee"/></svg></b><b class="b B p w27">19</b><b class="b G o w40">100%</b><b class="b G tp w41">30ms</b><span class="t n">29/12/2020 10:30:50</span><b class="b pg"><svg width="10" height="7" viewBox="0 0 10 7"><path d="M0 3.5Q5-2.6 10 3.5Q5 9.6 0 3.5z" fill="#eee"/><circle cx="5" cy="3.5" r="1.7" fill="#4f78ad"/></svg> Ping</b></div>
<!-- 75 -->
<div class="r"><span class="t m">Unknown</span><span class="t id">75</span><b class="b O s w41">Probe</b><b class="b O ba w22">–</b><b class="b L w w38">3600</b><b class="b B p w23">0</b><span class="er"><svg width="9" height="9"><circle cx="4.5" cy="4.5" r="4.5" fill="#b5373d"/><path d="M4.5 1.8v3.2M4.5 6v1.3" stroke="#232323" stroke-width="1.4"/></svg></span><b class="b pg"><svg width="10" height="7" viewBox="0 0 10 7"><path d="M0 3.5Q5-2.6 10 3.5Q5 9.6 0 3.5z" fill="#eee"/><circle cx="5" cy="3.5" r="1.7" fill="#4f78ad"/></svg> Ping</b></div>
<!-- 76 -->
<div class="r k"><span class="t m">Unknown</span><span class="t id">76</span><b class="b O s w41">Probe</b><b class="b O ba w22">–</b><b class="b L w w38">3600</b><b class="b B p w23">0</b><span class="er"><svg width="9" height="9"><circle cx="4.5" cy="4.5" r="4.5" fill="#b5373d"/><path d="M4.5 1.8v3.2M4.5 6v1.3" stroke="#1b1b1b" stroke-width="1.4"/></svg></span><b class="b pg"><svg width="10" height="7" viewBox="0 0 10 7"><path d="M0 3.5Q5-2.6 10 3.5Q5 9.6 0 3.5z" fill="#eee"/><circle cx="5" cy="3.5" r="1.7" fill="#4f78ad"/></svg> Ping</b></div>
<!-- 77 -->
<div class="r"><span class="t m">Unknown</span><span class="t id">77</span><b class="b R c w36">NOK</b><b class="b G v">OK</b><b class="b G s w56">Complete</b><b class="b O ba w22">–</b><b class="b L w w38">3600</b><b class="b B p w27">53</b><b class="b R o w34">69%</b><b class="b R tp w50">1773ms</b><span class="t n">29/12/2020 10:30:59</span><b class="b pg"><svg width="10" height="7" viewBox="0 0 10 7"><path d="M0 3.5Q5-2.6 10 3.5Q5 9.6 0 3.5z" fill="#eee"/><circle cx="5" cy="3.5" r="1.7" fill="#4f78ad"/></svg> Ping</b></div>
<!-- 78 -->
<div class="r k"><span class="t m">Unknown</span><span class="t id">78</span><b class="b O s w41">Probe</b><b class="b O ba w22">–</b><b class="b L w w38">3600</b><b class="b B p w23">0</b><span class="er"><svg width="9" height="9"><circle cx="4.5" cy="4.5" r="4.5" fill="#b5373d"/><path d="M4.5 1.8v3.2M4.5 6v1.3" stroke="#1b1b1b" stroke-width="1.4"/></svg></span><b class="b pg"><svg width="10" height="7" viewBox="0 0 10 7"><path d="M0 3.5Q5-2.6 10 3.5Q5 9.6 0 3.5z" fill="#eee"/><circle cx="5" cy="3.5" r="1.7" fill="#4f78ad"/></svg> Ping</b></div>

<div class="bar"></div>
<svg class="cur" width="13" height="20" viewBox="0 0 13 20"><path d="M1 1L1 16L4.6 12.6L7.2 18.6L9.4 17.6L6.9 11.8L11.6 11.8Z" fill="#fff" stroke="#000" stroke-width="1"/></svg>
</body></html>
